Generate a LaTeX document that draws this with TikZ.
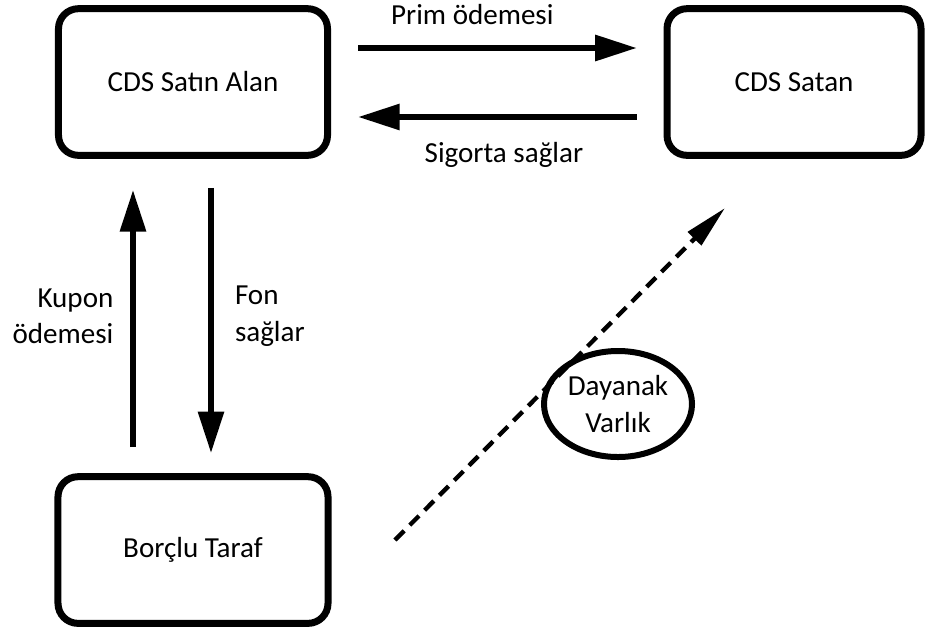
\documentclass[tikz,border=0pt]{standalone}
\usepackage{fontspec}
\setmainfont{Carlito}
\usetikzlibrary{arrows.meta}
\usetikzlibrary{shapes.geometric}

\begin{document}
\begin{tikzpicture}[x=0.03cm,y=-0.03cm,thick]
			\tikzstyle{every node}=[font=\fontsize{24.8pt}{31pt}\selectfont,text=black]
			\tikzstyle{party}=[draw=black,line width=0.21cm,rounded corners=0.6cm,minimum height=4.4cm]
			\tikzstyle{flow}=[line width=0.18cm,-{Triangle[length=1.25cm,width=0.75cm]}]
			\tikzstyle{lbl}=[inner sep=0pt]
			
			\useasboundingbox (0,0) rectangle (932,632);
			
			\node[party,minimum width=8.07cm]                                   (1) at (193,82) {CDS Satın Alan};
			\node[party,minimum width=7.62cm,node distance=18.03cm,right of=1] (2)              {CDS Satan};
			\node[party,minimum width=8.1cm,node distance=14.04cm,below of=1]  (3)              {Borçlu Taraf};
			\node[ellipse,draw=black,line width=0.18cm,minimum width=4.44cm,minimum height=3.18cm,inner sep=0pt,align=center] (4) at (618,404) {Dayanak\\Varlık};
			
			\coordinate (5) at (395,540);
			\coordinate (6) at (725,208);
			
			\draw[flow,shorten <=0.81cm,shorten >=0.8cm] ([yshift=1.02cm]1.east) -- node[lbl,pos=0.425,above=0.6cm] {Prim ödemesi} ([yshift=1.02cm]2.west);
			\draw[flow,shorten <=0.8cm,shorten >=0.81cm] ([yshift=-1.05cm]2.west) -- node[lbl,pos=0.48,below=0.66cm] {Sigorta sağlar} ([yshift=-1.05cm]1.east);
			\draw[flow,shorten <=0.78cm,shorten >=0.93cm] ([xshift=-1.8cm]3.north) -- node[lbl,left=0.5cm,align=right] {Kupon\\ödemesi} ([xshift=-1.8cm]1.south);
			\draw[flow,shorten <=0.87cm,shorten >=0.6cm] ([xshift=0.54cm]1.south) -- node[lbl,right=0.63cm,align=left] {Fon\\sağlar} ([xshift=0.54cm]3.north);
			\draw[line width=0.13cm,dash pattern=on 0.39cm off 0.24cm,-{Triangle[length=1.3cm,width=0.55cm]}] (5) -- (6);
\end{tikzpicture}
\end{document}
